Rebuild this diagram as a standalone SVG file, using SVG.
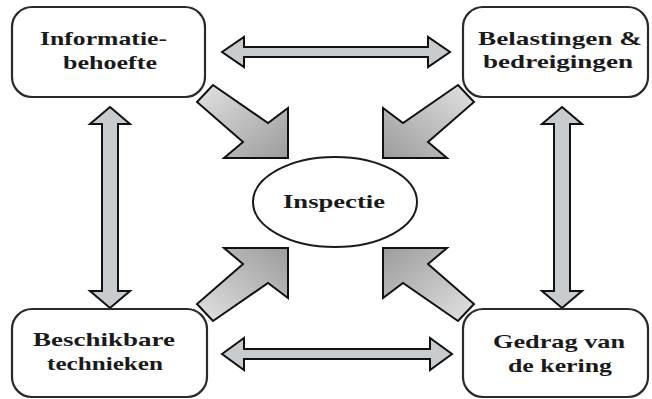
<svg xmlns="http://www.w3.org/2000/svg" xmlns:xlink="http://www.w3.org/1999/xlink" width="652" height="399" viewBox="0 0 652 399">
<style>
.box{fill:#fff;stroke:#2a2a2a;stroke-width:2.2}
.ell{fill:#fff;stroke:#1a1a1a;stroke-width:2}
.t{font-family:"Liberation Serif","Times New Roman",serif;font-weight:bold;font-size:19px;fill:#1a1a1a;text-anchor:start}
.dbl{fill:#c9cccf;stroke:#111;stroke-width:2;stroke-linejoin:miter}
.dia{fill:url(#g);stroke:#111;stroke-width:2;stroke-linejoin:miter}
</style>
<defs>
<linearGradient id="g" x1="0" y1="0" x2="1" y2="1">
<stop offset="0" stop-color="#e2e2e2"/>
<stop offset="1" stop-color="#9c9c9c"/>
</linearGradient>
<polygon id="diag" points="213,85 268,123 288,108 288,158 224,158 243,142 197,102"/>
</defs>
<rect width="652" height="399" fill="#fff"/>
<g id="connectors">
<polygon class="dbl" points="222,52 244,37 244,47 428,47 428,37 450,52 428,67 428,57 244,57 244,67"/>
<polygon class="dbl" points="222,354 244,338 244,349 430,349 430,338 452,354 430,370 430,359 244,359 244,370"/>
<polygon class="dbl" points="110,107 130,124 118,124 118,291 130,291 110,308 90,291 102,291 102,124 90,124"/>
<polygon class="dbl" points="562,107 582,124 570,124 570,291 582,291 562,308 542,291 554,291 554,124 542,124"/>
<use xlink:href="#diag" class="dia"/>
<use xlink:href="#diag" class="dia" transform="translate(671,0) scale(-1,1)"/>
<use xlink:href="#diag" class="dia" transform="translate(0,406) scale(1,-1)"/>
<use xlink:href="#diag" class="dia" transform="translate(671,406) scale(-1,-1)"/>
</g>
<g id="informatie">
<rect class="box" x="12" y="7" width="193" height="90" rx="20" ry="20"/>
<text class="t" x="40" y="45" textLength="127" lengthAdjust="spacingAndGlyphs">Informatie-</text>
<text class="t" x="63" y="69" textLength="94" lengthAdjust="spacingAndGlyphs">behoefte</text>
</g>
<g id="belastingen">
<rect class="box" x="463" y="7" width="185" height="90" rx="20" ry="20"/>
<text class="t" x="478" y="45" textLength="164" lengthAdjust="spacingAndGlyphs">Belastingen &amp;</text>
<text class="t" x="483" y="68" textLength="150" lengthAdjust="spacingAndGlyphs">bedreigingen</text>
</g>
<g id="beschikbare">
<rect class="box" x="12" y="309" width="195" height="88" rx="20" ry="20"/>
<text class="t" x="33" y="346" textLength="142" lengthAdjust="spacingAndGlyphs">Beschikbare</text>
<text class="t" x="47" y="370" textLength="116" lengthAdjust="spacingAndGlyphs">technieken</text>
</g>
<g id="gedrag">
<rect class="box" x="463" y="309" width="185" height="88" rx="20" ry="20"/>
<text class="t" x="493" y="348" textLength="132" lengthAdjust="spacingAndGlyphs">Gedrag van</text>
<text class="t" x="508" y="372" textLength="104" lengthAdjust="spacingAndGlyphs">de kering</text>
</g>
<g id="inspectie">
<ellipse class="ell" cx="335" cy="202" rx="82" ry="45"/>
<text class="t" x="283" y="208" textLength="102" lengthAdjust="spacingAndGlyphs">Inspectie</text>
</g>
</svg>
